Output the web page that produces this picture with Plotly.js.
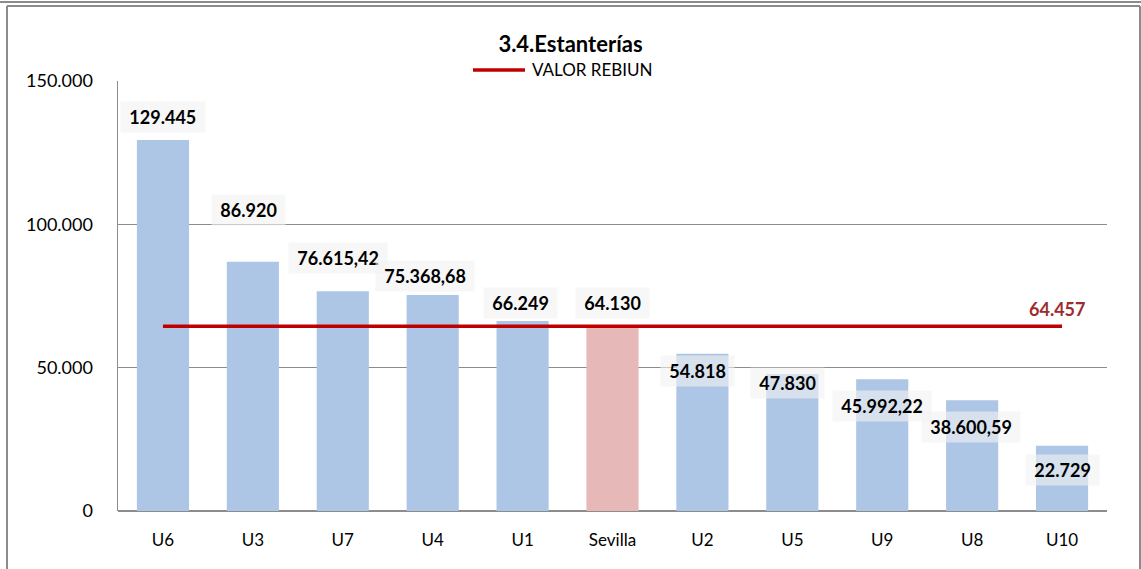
<!DOCTYPE html>
<html>
<head>
<meta charset="utf-8">
<script src="https://cdn.plot.ly/plotly-3.0.1.min.js"></script>
<style>
html,body{margin:0;padding:0;background:#fff;}
#chart{width:1141px;height:569px;}
</style>
</head>
<body>
<div id="chart"></div>
<script>
// ---- data ----
const categories = ["U6","U3","U7","U4","U1","Sevilla","U2","U5","U9","U8","U10"];
const values = [129445, 86920, 76615.42, 75368.68, 66249, 64130, 54818, 47830, 45992.22, 38600.59, 22729];
const rebiun = [64457, 64457, 64457, 64457, 64457, 64457, 64457, 64457, 64457, 64457, 64457];
const rebiunName = "VALOR REBIUN";
const highlight = "Sevilla";
const yTicks = [0, 50000, 100000, 150000];
const yTickText = ["0", "50.000", "100.000", "150.000"];

// ---- label placement (pixel offsets, style only) ----
const labelShift = [23, 52, 33, 19, 18, 24, -17, -9, -27, -27, -24];
const labelXShift = [0, -4, -5, -8, -2, 0, -5, -5, 0, -1, 0];

function fmt(v){
  const neg = v < 0; v = Math.abs(v);
  let ip = Math.floor(v);
  let frac = Math.round((v - ip) * 100);
  if (frac === 100) { ip += 1; frac = 0; }
  const s = String(ip).replace(/\B(?=(\d{3})+(?!\d))/g, ".");
  return (neg ? "-" : "") + s + (frac ? "," + String(frac).padStart(2, "0") : "");
}

const FONT = "Lato, 'Open Sans', sans-serif";
const barColors = categories.map(c => c === highlight ? "#E6B8B7" : "#AEC6E6");

const traces = [
  {
    type: "bar",
    x: categories,
    y: values,
    marker: {color: barColors},
    showlegend: false,
    hoverinfo: "x+y"
  },
  {
    type: "scatter",
    mode: "lines",
    x: categories,
    y: rebiun,
    name: rebiunName,
    line: {color: "#C00000", width: 3.5},
    showlegend: false
  }
];

const annotations = categories.map((c, i) => ({
  x: c, y: values[i], xref: "x", yref: "y",
  text: "\u00a0" + fmt(values[i]) + "\u00a0",
  showarrow: false,
  yshift: labelShift[i],
  xshift: labelXShift[i],
  font: {family: FONT, size: 18, color: "#000", weight: "bold"},
  bgcolor: "rgba(242,242,242,0.6)",
  borderpad: 4
}));
annotations.push({
  x: categories[categories.length - 1], y: rebiun[rebiun.length - 1],
  xref: "x", yref: "y",
  text: "<b>" + fmt(rebiun[rebiun.length - 1]) + "</b>",
  showarrow: false, yshift: 17, xshift: -5,
  font: {family: FONT, size: 18, color: "#9B2D30"}
});
// legend text (manual legend)
annotations.push({
  x: (530 - 118) / 989, y: (511 - 70) / 430, xref: "paper", yref: "paper",
  xanchor: "left", yanchor: "middle",
  text: rebiunName, showarrow: false,
  font: {family: FONT, size: 17, color: "#000"}
});

const frame = {color: "#8C8C8C", width: 2};
const layout = {
  width: 1141, height: 569,
  margin: {l: 118, r: 34, t: 81, b: 58, pad: 0},
  paper_bgcolor: "#fff", plot_bgcolor: "#fff",
  font: {family: FONT, color: "#000"},
  title: {
    text: "<b>3.4.Estanterías</b>",
    font: {family: FONT, size: 22, color: "#000"},
    x: 0.5, xanchor: "center", xref: "container",
    y: 1 - 44 / 569, yanchor: "middle", yref: "container"
  },
  bargap: 0.42,
  xaxis: {
    type: "category",
    showgrid: false,
    showline: false,
    zeroline: false,
    ticks: "",
    tickfont: {family: FONT, size: 17, color: "#000"},
    ticklabelstandoff: 17,
    fixedrange: true
  },
  yaxis: {
    range: [0, 150000],
    tickvals: yTicks,
    ticktext: yTickText,
    showgrid: true, gridcolor: "#8C8C8C", gridwidth: 1,
    zeroline: true, zerolinecolor: "#8C8C8C", zerolinewidth: 1.5,
    showline: true, linecolor: "#8C8C8C", linewidth: 1.5,
    ticks: "",
    ticklabelstandoff: 20,
    tickfont: {family: FONT, size: 18, color: "#000"},
    fixedrange: true
  },
  showlegend: false,
  annotations: annotations,
  shapes: [
    {type: "line", xref: "paper", yref: "paper", x0: -0.2, x1: 1.2, y0: (511 - 2) / 430, y1: (511 - 2) / 430, line: frame, layer: "below"},
    {type: "line", xref: "paper", yref: "paper", x0: (7 - 118) / 989, x1: (1140 - 118) / 989, y0: (511 - 6) / 430, y1: (511 - 6) / 430, line: frame, layer: "below"},
    {type: "line", xref: "paper", yref: "paper", x0: (7 - 118) / 989, x1: (7 - 118) / 989, y0: (511 - 6) / 430, y1: -0.3, line: frame, layer: "below"},
    {type: "line", xref: "paper", yref: "paper", x0: (1140 - 118) / 989, x1: (1140 - 118) / 989, y0: (511 - 6) / 430, y1: -0.3, line: frame, layer: "below"},
    // legend line sample
    {type: "line", xref: "paper", yref: "paper", x0: (473 - 118) / 989, x1: (525 - 118) / 989, y0: (511 - 70) / 430, y1: (511 - 70) / 430, line: {color: "#C00000", width: 3.5}}
  ]
};

Plotly.newPlot("chart", traces, layout, {displayModeBar: false, staticPlot: true});
</script>
</body>
</html>
